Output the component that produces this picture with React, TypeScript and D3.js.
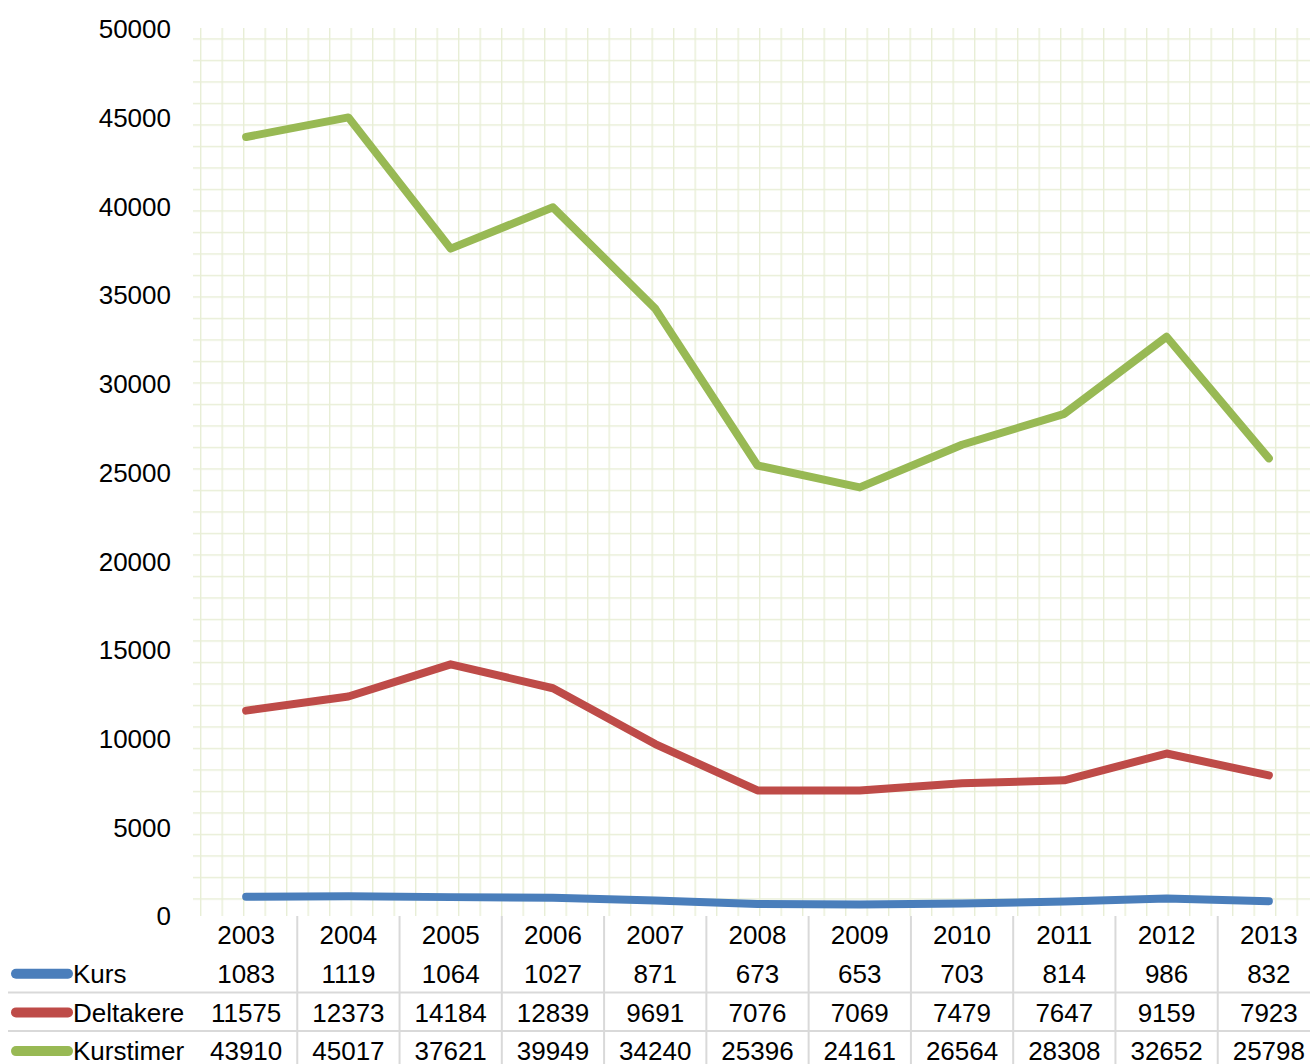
import React from 'react'
import * as d3 from 'd3'

const years = ['2003', '2004', '2005', '2006', '2007', '2008', '2009', '2010', '2011', '2012', '2013']
const kurs = [1083, 1119, 1064, 1027, 871, 673, 653, 703, 814, 986, 832]
const deltakere = [11575, 12373, 14184, 12839, 9691, 7076, 7069, 7479, 7647, 9159, 7923]
const kurstimer = [43910, 45017, 37621, 39949, 34240, 25396, 24161, 26564, 28308, 32652, 25798]
const seriesNames = ['Kurs', 'Deltakere', 'Kurstimer']
const seriesColors = ['#4A7EBB', '#BE4B48', '#98B954']
const yTicks = [0, 5000, 10000, 15000, 20000, 25000, 30000, 35000, 40000, 45000, 50000]

const W = 1310
const H = 1064
const plotLeft = 195
const plotRight = 1320
const plotTop = 29
const plotBottom = 916
const rowH = 38.7
const font = 'Liberation Sans, Arial, sans-serif'
const fs = 26

export default function App() {
  const series = [kurs, deltakere, kurstimer]

  const x = d3.scaleBand<string>().domain(years).range([plotLeft, plotRight])
  const cx = (d: string) => (x(d) as number) + x.bandwidth() / 2
  const y = d3.scaleLinear().domain([0, 50000]).range([plotBottom, plotTop])

  const line = d3.line<number>()
    .x((_, i) => cx(years[i]))
    .y(d => y(d))

  // table row centres
  const rowY = (r: number) => plotBottom + 19 + r * rowH

  return (
    <svg width={W} height={H} style={{ position: 'absolute', left: 0, top: 0 }}>
      <defs>
        <pattern id="grid" patternUnits="userSpaceOnUse" x={200} y={38.3} width={21.5} height={21.5}>
          <line x1={0} y1={-1} x2={0} y2={22.5} stroke="#E8EED6" strokeWidth={2.8} />
          <line x1={-1} y1={0} x2={22.5} y2={0} stroke="#E8EED6" strokeWidth={2.8} />
        </pattern>
      </defs>
      <rect x={0} y={0} width={W} height={H} fill="#fff" />
      <rect x={plotLeft - 2} y={plotTop - 1} width={plotRight - plotLeft} height={plotBottom - plotTop + 1} fill="url(#grid)" />

      {/* y axis labels */}
      {yTicks.map(t => (
        <text key={t} x={171} y={y(t)} dy="0.36em" textAnchor="end" fontFamily={font} fontSize={fs} fill="#000">
          {t}
        </text>
      ))}

      {/* lines */}
      {series.map((s, i) => (
        <path key={i} d={line(s) || ''} fill="none" stroke={seriesColors[i]} strokeWidth={8}
          strokeLinecap="round" strokeLinejoin="round" />
      ))}

      {/* data table */}
      {years.slice(1).map(yr => (
        <line key={yr} x1={x(yr)} x2={x(yr)} y1={plotBottom} y2={H} stroke="#D9D9D9" strokeWidth={2} />
      ))}
      {[1, 2].map(r => (
        <line key={r} x1={8} x2={W} y1={plotBottom + 38.5 * (r + 1) - 0.5} y2={plotBottom + 38.5 * (r + 1) - 0.5}
          stroke="#D9D9D9" strokeWidth={2} />
      ))}
      {years.map(yr => (
        <text key={yr} x={cx(yr)} y={rowY(0)} dy="0.36em" textAnchor="middle" fontFamily={font} fontSize={fs} fill="#000">
          {yr}
        </text>
      ))}
      {series.map((s, i) => (
        <g key={i}>
          <line x1={16} x2={68} y1={rowY(i + 1)} y2={rowY(i + 1)} stroke={seriesColors[i]} strokeWidth={10} strokeLinecap="round" />
          <text x={73} y={rowY(i + 1)} dy="0.36em" fontFamily={font} fontSize={fs} fill="#000">{seriesNames[i]}</text>
          {s.map((v, j) => (
            <text key={j} x={cx(years[j])} y={rowY(i + 1)} dy="0.36em" textAnchor="middle" fontFamily={font} fontSize={fs} fill="#000">
              {v}
            </text>
          ))}
        </g>
      ))}
    </svg>
  )
}
